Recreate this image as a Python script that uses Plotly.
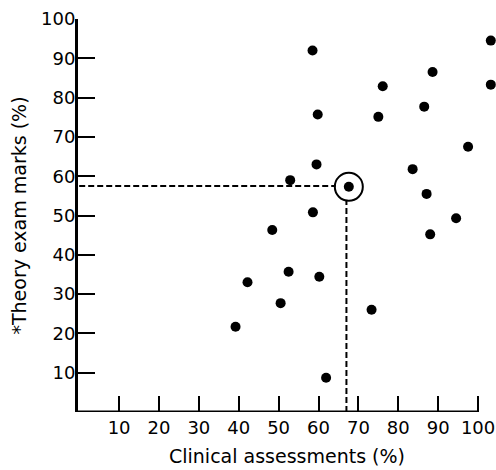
import plotly.graph_objects as go

# Clinical assessment (%) and theory exam marks (%) for each student
clinical = [58.5, 103.2, 88.6, 103.2, 76.1, 59.8, 75.0, 86.5, 97.5, 59.5,
            83.6, 52.9, 87.1, 58.6, 94.5, 48.4, 88.0, 42.2, 52.5, 60.2,
            50.5, 73.3, 61.9, 39.2]
theory = [92.0, 94.5, 86.5, 83.3, 82.9, 75.7, 75.1, 77.7, 67.5, 63.0,
          61.8, 59.0, 55.5, 50.8, 49.3, 46.3, 45.2, 33.0, 35.7, 34.4,
          27.7, 26.0, 8.7, 21.7]

# Highlighted student
hl_clinical = 67.6
hl_theory = 57.3
guide_x = 67.0
guide_y = 57.5

tick_vals = [10, 20, 30, 40, 50, 60, 70, 80, 90, 100]
tick_text = [str(v) for v in tick_vals]

x_title = "Clinical assessments (%)"
y_title = "*Theory exam marks (%)"

FONT = "DejaVu Sans"

fig = go.Figure()

# dashed guide lines
fig.add_trace(go.Scatter(
    x=[0, hl_clinical - 3.3], y=[guide_y, guide_y], mode="lines",
    line=dict(color="black", width=2, dash="6px,3px"),
    showlegend=False, hoverinfo="skip", cliponaxis=False))
fig.add_trace(go.Scatter(
    x=[guide_x, guide_x], y=[0, hl_theory - 3.3], mode="lines",
    line=dict(color="black", width=2, dash="6px,3px"),
    showlegend=False, hoverinfo="skip", cliponaxis=False))

# data points
fig.add_trace(go.Scatter(
    x=clinical, y=theory, mode="markers",
    marker=dict(color="black", size=10, line=dict(width=0)),
    showlegend=False, cliponaxis=False))

# highlighted point with ring
fig.add_trace(go.Scatter(
    x=[hl_clinical], y=[hl_theory], mode="markers",
    marker=dict(color="black", size=10, line=dict(width=0)),
    showlegend=False, cliponaxis=False))
fig.add_trace(go.Scatter(
    x=[hl_clinical], y=[hl_theory], mode="markers",
    marker=dict(symbol="circle-open", size=28, color="black",
                line=dict(color="black", width=2)),
    showlegend=False, cliponaxis=False))

# x axis line ends at 100 while the plot area continues beyond it
fig.add_shape(type="line", xref="x", yref="y", x0=-0.3, x1=100, y0=0, y1=0,
              line=dict(color="black", width=3), layer="above")

fig.update_layout(
    width=496, height=470,
    margin=dict(l=78, r=0, t=19, b=58),
    paper_bgcolor="white", plot_bgcolor="white",
    font=dict(family=FONT, size=18, color="black"),
    xaxis=dict(
        range=[-0.3, 104.5], showgrid=False, zeroline=False,
        showline=False,
        ticks="inside", ticklen=16, tickwidth=2, tickcolor="black",
        tickvals=tick_vals, ticktext=tick_text,
        tickfont=dict(family=FONT, size=18, color="black"),
        ticklabelstandoff=3,
        title=dict(text=x_title, font=dict(family=FONT, size=19, color="black"),
                   standoff=12),
    ),
    yaxis=dict(
        range=[0, 100], showgrid=False, zeroline=False,
        showline=True, linecolor="black", linewidth=3,
        ticks="inside", ticklen=17, tickwidth=2, tickcolor="black",
        tickvals=tick_vals, ticktext=tick_text,
        tickfont=dict(family=FONT, size=18, color="black"),
        ticklabelstandoff=-4,
        title=dict(text=y_title, font=dict(family=FONT, size=19, color="black"),
                   standoff=10),
    ),
)

fig.write_html("out.html")
